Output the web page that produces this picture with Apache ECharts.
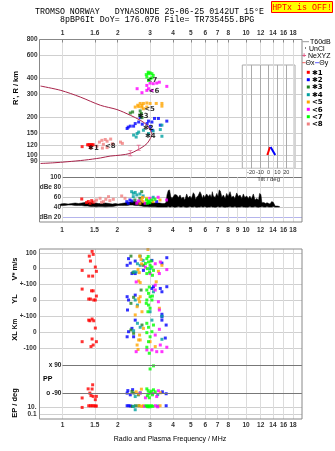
<!DOCTYPE html>
<html><head><meta charset="utf-8">
<script src="https://cdn.jsdelivr.net/npm/echarts@6/dist/echarts.min.js"></script>
<style>html,body{margin:0;padding:0;background:#fff}#c{width:335px;height:451px}</style>
</head><body><div id="c"></div>
<script>
// ---------------- DATA ----------------
const topTicks = [1,1.5,2,3,4,5,6,7,8,10,12,14,16,18];
const topTickLabels = ['1','1.6','2','3','4','5','6','7','8','10','12','14','16','18'];
const midTicks = [1,1.5,2,3,4,5,6,7,8,9,10,12,14,16,18];
const midTickLabels = ['1','1.5','2','3','4','5','6','7','8','9','10','12','14','16','18'];
const bottomTickLabels = ['1','1.5','2','3','4','5','6','7','8','10','12','14','16','18'];
const heightTicks = [80,90,100,120,150,200,300,400,600,800];
const dbTicks = [20,40,60,80,100];
const dbTickLabels = ['dBn 20','40','60','dBe 80','100'];
const tiltTicks = [-20,-10,0,10,20];

const classColors = ['#ff0000','#0000ff','#208020','#00a0a0','#ffa500','#ff00ff','#00ff00','#f08080'];
const classLabels = ['\u27311','\u27312','\u27313','\u27314','<5','<6','<7','<8'];

// N(h) profile: plasma frequency (MHz) vs real height (km)
const profFreq   = [0.76,0.9,1.06,1.32,1.61,1.82,2.07,2.34,2.55,2.71,2.89,3.01,3.07,3.05,3.01,2.89,2.65,2.34,1.98,1.61,1.25,0.98,0.76];
const profHeight = [86.5,87.6,89.2,91.9,95.5,98.8,100.5,103.6,109.9,115.4,123.9,135.5,145.6,150,157,172,188,205.5,227.6,245.7,285,321,347];
const errFreq = [2.34,2.6];
const errHeight = [104,114.6];

// echoes: [class, freq MHz, virtual height km]
const heightEchoes = [
 [1,1.28,117],[1,1.37,121],[1,1.39,121],[1,1.41,121],[1,1.43,121],[1,1.45,121],[1,1.47,121],[1,1.42,115],
 [8,1.54,118],[8,1.59,127],[8,1.64,131],[8,1.71,133],[8,1.75,129],[8,1.83,134],[8,1.67,122],[8,1.65,114],[8,1.75,115],[8,1.87,123],[8,2.07,127],[8,2.12,124],
 [2,2.25,162],[2,2.28,166],[2,2.34,169],[2,2.44,169],[2,2.49,177],[2,2.6,182],[2,2.65,197],[2,2.72,175],[2,2.89,177],[2,2.94,185],[2,3.07,182],[2,3.17,194],[2,3.33,194],[2,3.7,185],[2,3.41,172],[2,3.0,167],[2,3.09,157],
 [3,2.34,214],[3,2.41,218],[3,2.65,222],[3,2.69,212],[3,2.63,206],[3,2.71,197],
 [4,2.44,144],[4,2.52,139],[4,2.55,148],[4,2.6,152],[4,2.76,157],[4,2.94,148],[4,3.12,155],[4,3.48,141],[4,3.41,159],[4,3.48,172],
 [5,2.49,238],[5,2.57,246],[5,2.65,254],[5,2.71,246],[5,2.76,254],[5,2.88,256],[5,3.0,254],[5,3.24,254],[5,3.48,254],[5,3.48,242],[5,2.88,238],[5,2.76,231],[5,2.6,240],[5,2.7,238],
 [6,2.55,331],[6,2.71,308],[6,2.88,351],[6,3.0,366],[6,3.12,362],[6,3.26,366],[6,3.37,372],[6,3.7,345],[6,2.94,331],[6,3.07,321],[6,2.88,321],
 [7,2.86,426],[7,2.94,433],[7,3.07,433],[7,3.12,420],[7,2.88,408],[7,3.0,396],[7,2.94,384],[7,3.07,402],[7,2.93,445],[7,3.0,440]
];
// echo class label positions [freq, height]
const echoLabelFreq   = [1.474,2.934,2.756,3.009,2.98,3.15,3.07,1.823];
const echoLabelHeight = [114,163,202,141,229,316,384,117];

// amplitudes: [class, freq, dB]
const ampEchoes = [
 [1,1.28,57],[1,1.39,52],[1,1.45,53.7],[1,1.48,50.5],[1,1.42,48.5],[1,1.36,50],
 [8,1.54,55],[8,1.61,58.4],[8,1.68,51.7],[8,1.73,56.4],[8,1.79,61.6],[8,1.82,53.7],[8,1.9,56.4],[8,2.11,63],[8,2.2,58.4],[8,1.64,50.5],[8,1.51,51.7],
 [2,2.25,51.7],[2,2.34,55],[2,2.29,48.5],[2,2.65,51.7],[2,3.27,51.7],[2,2.4,53],
 [4,2.44,68.3],[4,2.55,65],[4,2.65,67],[4,2.39,71.5],[4,2.76,63],[4,2.44,61.6],[4,3.13,60.4],[4,2.5,70],
 [3,2.71,71.5],[3,2.49,55],[3,2.65,58.4],
 [5,2.71,55],[5,2.76,51.7],[5,3.12,51.7],[5,3.41,55],[5,2.88,58.4],[5,2.65,48.5],[5,2.74,60],
 [6,2.55,48.5],[6,3.0,58.4],[6,3.33,60.4],[6,3.7,55],[6,2.83,48.5],[6,2.6,53],
 [7,2.88,55],[7,2.94,51.7],[7,3.0,49.7],[7,3.07,55],[7,3.2,56.4],[7,2.91,48.5],[7,2.97,53]
];

// background noise band: freq, lower dB, upper dB
const noiseFreq = [0.98,1.03,1.08,1.13,1.18,1.23,1.28,1.33,1.38,1.43,1.48,1.53,1.58,1.65,1.72,1.8,1.88,1.95,2.02,2.1,2.18,2.26,2.34,2.42,2.5,2.6,2.7,2.8,2.9,3.0,3.1,3.2,3.3,3.4,3.5,3.6,3.68,
 3.72,3.78,3.84,3.9,3.96,4.03,4.1,4.2,4.3,4.38,4.46,4.56,4.65,4.76,4.85,4.96,5.05,5.17,5.25,5.32,5.4,5.5,5.62,5.7,5.8,5.88,5.96,6.11,6.25,6.37,6.48,6.56,6.64,6.8,6.93,7.05,7.15,7.25,7.4,7.53,7.7,7.85,8.0,8.19,8.35,8.53,8.7,8.9,9.1,9.28,9.5,9.67,9.85,10.09,10.3,10.5,10.7,10.96,11.2,11.43,11.7,11.85,12.05,12.2,12.5,12.8,13.0,13.3,13.5,13.8,14.1,14.4,14.8,15.2];
const noiseLow = [44,44,45,45,44,44,44,43,43,42,42,41.5,42,42,41.5,42,42,43,44,44,44,44,45,45,44,44,43,42,42,41.5,41.5,41.5,41,41,41,41,41,
 41,42,41,41,42,41,40.6,41,42,41,41,42,41,40.6,41,42,41,41,42,41,40.6,41,41,42,41,41,42,40.6,41,41,42,41,41,40.6,41,42,41,41,42,41,40.6,41,41,42,41,41,42,40.6,41,41,42,41,41,40.6,41,42,41,41,42,41,40.6,41,41,42,41,41,42,41,41,41,42,41,41,41];
const noiseHigh = [47,48,47,48,49,48,49,50,49,50,49,49,48,48,49,48,47,48,47,48,49,50,51,52,52,51,51,50,50,50,50,49,49,49,48,48,50,
 65,74,75,62,58,62,66,65,60,65,58,61,55,67,59,63,58,69.5,66,56,61,64,71.5,67,58,65,60,67,62,66,60,71.5,63,60,68,62,75,73,60,65,58,68,62,71.5,60,63,58,69,62,65,58,67,60,63,58,63,57,67,55,58,55,68,66,49.7,50,48,49.7,48,47,52,50,43,43,42];

// lower panel: [class, freq, value]
const vstarEchoes = [
 [1,1.45,109],[1,1.47,90],[1,1.40,79],[1,1.42,48],[1,1.51,10],[1,1.28,-11],[1,1.53,-17],[1,1.39,-47],[1,1.46,-47],
 [5,2.92,121],[5,2.63,79],[5,2.68,58],[5,2.62,-25],[5,2.6,-78],[5,2.65,-88],[5,3.48,21],[5,3.33,-17],[5,2.58,-5],[5,2.7,30],
 [2,2.49,48],[2,2.29,63],[2,2.25,21],[2,2.34,35],[2,3.7,69],[2,3.48,35],[2,2.39,-31],[2,2.49,-31],[2,2.76,-11],[2,3.07,52],
 [3,2.36,79],[3,2.65,79],[3,2.42,-25],[3,2.76,21],
 [4,2.56,31],[4,2.65,21],[4,2.75,52],[4,3.0,0],[4,2.52,-21],[4,2.45,-20],
 [7,2.88,63],[7,2.94,42],[7,3.0,21],[7,2.9,0],[7,2.98,-21],[7,3.07,10],[7,3.13,-11],[7,2.88,-31],[7,3.04,48],[7,2.93,77],[7,3.09,-42],[7,2.83,33],
 [6,3.41,42],[6,3.7,-6],[6,2.52,-84],[6,3.2,31],[6,3.0,-31],[6,3.37,-31],[6,2.83,10]
];
const ylEchoes = [
 [1,1.28,71],[1,1.44,60],[1,1.47,60],[1,1.53,27],[1,1.39,8],[1,1.42,8],[1,1.48,2],[1,1.51,2],
 [2,2.25,23],[2,2.29,2],[2,2.26,-61],[2,2.49,33],[2,3.13,86],[2,3.41,75],[2,3.48,54],[2,3.7,86],[2,3.07,75],[2,3.48,-88],
 [5,2.65,23],[5,2.63,-9],[5,2.71,-72],[5,2.49,-92],[5,2.55,-40],[5,3.24,117],[5,3.37,-50],[5,2.6,10],
 [3,2.44,19],[3,2.36,-19],[3,2.68,65],
 [4,2.49,2],[4,2.56,-30],[4,3.13,54],[4,3.0,-72],[4,3.48,-100],
 [7,2.88,65],[7,2.94,44],[7,3.0,23],[7,2.88,2],[7,2.94,-30],[7,3.0,-50],[7,2.92,-72],[7,3.07,2],[7,2.86,-19],[7,2.97,84],[7,3.09,27],
 [6,3.2,65],[6,3.33,-9],[6,3.37,-61],[6,3.2,96]
];
const xlEchoes = [
 [1,1.39,75],[1,1.45,82],[1,1.41,71],[1,1.48,71],[1,1.51,25],[1,1.45,-44],[1,1.28,-61],[1,1.53,-61],[1,1.47,-82],[1,1.43,-92],
 [2,2.49,75],[2,2.29,2],[2,2.25,-30],[2,3.48,96],[2,3.48,75],[2,2.44,-30],[2,2.39,23],[2,3.67,44],[2,3.63,-38],
 [5,2.63,-19],[5,2.6,-50],[5,2.65,-50],[5,2.55,-82],[5,3.0,-61],[5,3.2,-92],[5,2.76,23],[5,2.58,-110],
 [3,2.36,13],[3,2.44,-8],[3,2.71,44],
 [4,2.56,55],[4,2.65,30],[4,3.07,75],[4,3.48,-46],[4,2.44,8],
 [7,2.88,55],[7,2.94,30],[7,2.88,-4],[7,3.0,-30],[7,2.94,-61],[7,2.88,-96],[7,3.13,44],[7,3.07,2],[7,2.97,-134],
 [6,3.7,-96],[6,3.41,-82],[6,3.2,-19],[6,3.07,-113],[6,2.52,-124],[6,3.37,17],[6,2.88,-113],[6,3.26,-124],[6,3.48,-124]
];
const ppEchoes = [
 [1,1.38,-63],[1,1.45,-64],[1,1.41,-90],[1,1.43,-106],[1,1.47,-111],[1,1.53,-111],[1,1.28,-121],[1,1.51,-132],[1,1.46,-37],
 [2,2.25,-90],[2,2.27,-74],[2,2.34,-101],[2,3.67,-94],[2,2.41,-68],[2,3.5,-82],
 [3,2.39,-80],[3,2.59,-101],[3,2.45,-90],
 [5,2.69,-65],[5,2.52,-82],[5,3.41,-88],[5,2.6,-95],
 [4,2.49,-112],[4,2.65,-88],[4,3.3,-100],
 [7,2.88,-63],[7,2.93,-75],[7,3.0,-88],[7,3.09,-101],[7,2.9,-107],[7,3.13,-69],[7,2.97,-120],[7,3.2,-82],[7,3.13,84],[7,3.0,64],[7,2.95,-95],[7,3.05,-78],
 [6,2.65,-90],[6,3.26,-112],[6,3.33,-75],[6,2.83,-120],[6,3.1,-92]
];
const epEchoes = [
 [1,1.39,23.6],[1,1.42,23.6],[1,1.45,23.6],[1,1.48,23.6],[1,1.51,20],[1,1.53,20],[1,1.28,7.7],
 [2,2.25,24],[2,2.3,24],[2,3.67,24],[2,2.35,20],
 [3,2.4,16],[3,2.6,24],[3,2.5,24],
 [4,2.49,1.7],[4,2.44,16],[4,3.3,20],
 [5,2.62,24],[5,2.7,16],[5,3.4,24],[5,2.75,24],
 [7,2.85,24],[7,2.9,16],[7,2.95,24],[7,3.0,12],[7,3.05,24],[7,3.1,16],[7,2.92,12],
 [6,2.8,16],[6,3.2,24],[6,3.3,12]
];
const ppLines = [90,-90];
const ppLineLabels = ['x 90','o -90'];

// tilt inset: [tilt deg, height km]
const tiltX = [[-1.5,100.5],[1.5,116]];
const tiltY = [[2.2,116],[7.5,100.5]];

// ---------------- LAYOUT / TRANSFORMS ----------------
const lg = Math.log10;
const V_OFF = 400, YL_OFF = 200, XL_OFF = 0;
const PP_OFF = -296.5, PP_K = 0.989;
const EP_OFF = -495.6, EP_K = 22;
const ppU = p => PP_OFF + p * PP_K;
const epU = e => EP_OFF + EP_K * lg(e);
const XMIN = -0.125, XMAX = 1.3043;

const bottomTickU = [epU(0.1), epU(10), XL_OFF-100, XL_OFF, XL_OFF+100, YL_OFF, YL_OFF+100, V_OFF, V_OFF+100];
const bottomTickText = ['0.1','10.','-100','0','+-100','0','+-100','0','100'];

function labelFor(v, vals, texts) {
  for (let i = 0; i < vals.length; i++) if (Math.abs(vals[i] - v) < 1e-6) return texts[i];
  return '';
}
const FONT = 'Liberation Sans';
const tickFont = {fontFamily: FONT, fontSize: 6.5, fontWeight: 'bold', color: '#333'};

function freqAxis(gridIndex, position, ticks, labels, opts) {
  const cv = ticks.map(t => lg(t));
  return Object.assign({
    type: 'value', gridIndex, position, min: opts.min, max: XMAX,
    axisLine: {show: false},
    axisTick: {show: position === 'top', inside: true, length: 3, customValues: cv, lineStyle: {color: '#888'}},
    axisLabel: Object.assign({customValues: cv, margin: opts.margin, formatter: v => labelFor(v, cv, labels)}, tickFont),
    splitLine: {show: true, lineStyle: {color: '#dcdcdc', width: 1}}
  }, opts.extra || {});
}

const series = [];
// profile curve
series.push({type: 'line', xAxisIndex: 0, yAxisIndex: 0, data: profFreq.map((f, i) => [lg(f), lg(profHeight[i])]),
  symbol: 'none', smooth: 0.3, lineStyle: {color: '#a8234a', width: 1}, z: 3});
series.push({type: 'scatter', xAxisIndex: 0, yAxisIndex: 0, data: errFreq.map((f, i) => [lg(f), lg(errHeight[i])]),
  symbol: 'path://M0,0H4V1H2.5V6H4V7H0V6H1.5V1H0Z', symbolSize: [4, 6], itemStyle: {color: '#e05a86'}, z: 4});

for (let k = 1; k <= 8; k++) {
  const col = classColors[k - 1];
  series.push({type: 'scatter', xAxisIndex: 0, yAxisIndex: 0, symbol: 'rect', symbolSize: 3, itemStyle: {color: col}, z: 2,
    data: heightEchoes.filter(e => e[0] === k).map(e => [lg(e[1]), lg(e[2])])});
  series.push({type: 'scatter', xAxisIndex: 1, yAxisIndex: 1, symbol: 'rect', symbolSize: 3, itemStyle: {color: col}, z: 5,
    data: ampEchoes.filter(e => e[0] === k).map(e => [lg(e[1]), e[2]])});
  const bot = [].concat(
    vstarEchoes.filter(e => e[0] === k).map(e => [lg(e[1]), V_OFF + e[2]]),
    ylEchoes.filter(e => e[0] === k).map(e => [lg(e[1]), YL_OFF + e[2]]),
    xlEchoes.filter(e => e[0] === k).map(e => [lg(e[1]), XL_OFF + e[2]]),
    ppEchoes.filter(e => e[0] === k).map(e => [lg(e[1]), ppU(e[2])]),
    epEchoes.filter(e => e[0] === k).map(e => [lg(e[1]), epU(e[2])])
  );
  series.push({type: 'scatter', xAxisIndex: 2, yAxisIndex: 2, symbol: 'rect', symbolSize: 3, itemStyle: {color: col}, z: 3, data: bot});
}
// echo class labels
series.push({type: 'scatter', xAxisIndex: 0, yAxisIndex: 0, symbolSize: 0, z: 6,
  data: echoLabelFreq.map((f, i) => ({value: [lg(f), lg(echoLabelHeight[i])], name: classLabels[i]})),
  label: {show: true, position: 'inside', formatter: p => p.name, color: '#000', fontFamily: 'DejaVu Sans', fontWeight: 'bold', fontSize: 7}});

// noise band polygon
series.push({type: 'custom', xAxisIndex: 1, yAxisIndex: 1, z: 2, data: [[lg(noiseFreq[0]), noiseLow[0]]],
  renderItem: (params, api) => {
    const pts = [];
    for (let i = 0; i < noiseFreq.length; i++) pts.push(api.coord([lg(noiseFreq[i]), noiseHigh[i]]));
    for (let i = noiseFreq.length - 1; i >= 0; i--) pts.push(api.coord([lg(noiseFreq[i]), noiseLow[i]]));
    return {type: 'polygon', shape: {points: pts}, style: {fill: '#000', stroke: '#000', lineWidth: 0.5}};
  }});

// PP reference lines
series.push({type: 'line', xAxisIndex: 2, yAxisIndex: 2, data: [], symbol: 'none',
  markLine: {silent: true, symbol: 'none', animation: false,
    lineStyle: {color: '#777', width: 1, type: 'solid'},
    label: {position: 'start', distance: 1, color: '#222', fontFamily: FONT, fontSize: 6.5, fontWeight: 'bold', formatter: p => p.name},
    data: ppLines.map((p, i) => [{name: ppLineLabels[i], coord: [0, ppU(p)]}, {coord: [XMAX, ppU(p)]}])}});

// tilt inset
series.push({type: 'line', xAxisIndex: 3, yAxisIndex: 3, symbol: 'none', lineStyle: {color: '#ff0000', width: 2}, z: 6,
  data: tiltX.map(p => [p[0], lg(p[1])])});
series.push({type: 'line', xAxisIndex: 3, yAxisIndex: 3, symbol: 'none', lineStyle: {color: '#0000ff', width: 2}, z: 6,
  data: tiltY.map(p => [p[0], lg(p[1])])});

// ---------------- GRAPHICS (text, legend, frames) ----------------
const g = [];
const txt = (x, y, text, o) => g.push(Object.assign({type: 'text', x, y, silent: true,
  style: Object.assign({text, fill: '#000', fontFamily: FONT, fontSize: 7, align: 'left', verticalAlign: 'middle'}, (o && o.style) || {})},
  (o && o.el) || {}));
const mono = 'Liberation Mono';
txt(35, 12, 'TROMSO NORWAY   DYNASONDE 25-06-25 0142UT 15\u00b0E', {style: {fontFamily: mono, fontSize: 8.3}});
txt(60, 20, '8pBP6It DoY= 176.070 File= TR735455.BPG', {style: {fontFamily: mono, fontSize: 8.3}});
g.push({type: 'rect', shape: {x: 271.5, y: 1.5, width: 61, height: 11}, style: {fill: '#ffff00', stroke: '#ff0000', lineWidth: 1}, silent: true});
txt(302, 7.5, 'HPTx is OFF!', {style: {fontFamily: mono, fontSize: 8.3, fill: '#ff0000', align: 'center'}});
// frames
g.push({type: 'rect', shape: {x: 39.5, y: 39.5, width: 262.5, height: 182.5}, style: {fill: 'none', stroke: '#888', lineWidth: 1}, silent: true, z: 10});
g.push({type: 'rect', shape: {x: 39.5, y: 249, width: 262.5, height: 170}, style: {fill: 'none', stroke: '#888', lineWidth: 1}, silent: true, z: 10});
// axis titles
const vt = (x, y, text, fs) => txt(x, y, text, {style: {fontSize: fs || 7.5, fontWeight: 'bold', align: 'center'}, el: {rotation: Math.PI / 2}});
vt(16, 88, "R', R / km");
vt(15, 269, 'V* m/s');
vt(15, 299, 'YL');
vt(15, 324, 'Km', 6.5);
vt(15, 336, 'XL');
vt(15, 403, 'EP / deg');
txt(43, 379, 'PP', {style: {fontSize: 7, fontWeight: 'bold'}});
txt(170, 439, 'Radio and Plasma Frequency / MHz', {style: {fontSize: 7, align: 'center'}});
// legend
g.push({type: 'line', shape: {x1: 302.5, y1: 41.7, x2: 309, y2: 41.7}, style: {stroke: '#999', lineWidth: 1}, silent: true});
txt(310, 42, 'T60dB');
g.push({type: 'rect', shape: {x: 305, y: 47.5, width: 1, height: 1}, style: {fill: '#000'}, silent: true});
txt(309, 49, 'UnCl');
txt(304, 55.5, '+', {style: {fill: '#e05a86', fontSize: 8, align: 'center', fontWeight: 'bold'}});
txt(308, 56, 'NeXYZ');
g.push({type: 'line', shape: {x1: 302, y1: 62.7, x2: 305.5, y2: 62.7}, style: {stroke: '#ff6060', lineWidth: 1}, silent: true});
txt(305.5, 63, '\u0398x');
g.push({type: 'line', shape: {x1: 315, y1: 62.7, x2: 319, y2: 62.7}, style: {stroke: '#6060ff', lineWidth: 1}, silent: true});
txt(319.3, 63, '\u0398y');
const legY = [72.3, 79.7, 87, 94.7, 102, 109.3, 116.7, 124];
for (let i = 0; i < 8; i++) {
  g.push({type: 'rect', shape: {x: 306.8, y: legY[i] - 1.5, width: 3, height: 3}, style: {fill: classColors[i]}, silent: true});
  txt(312, legY[i] + 0.5, classLabels[i], {style: {fontFamily: 'DejaVu Sans', fontWeight: 'bold', fontSize: 7}});
}

// ---------------- OPTION ----------------
const option = {
  animation: false,
  backgroundColor: '#fff',
  grid: [
    {left: 39.5, top: 39.5, width: 262.5, height: 137.8},
    {left: 62, top: 177.3, width: 240, height: 44.7},
    {left: 39.5, top: 249, width: 262.5, height: 170},
    {left: 242.3, top: 65, width: 52.7, height: 103.3, show: true, borderColor: '#aaa', borderWidth: 1, backgroundColor: 'transparent'}
  ],
  xAxis: [
    freqAxis(0, 'top', topTicks, topTickLabels, {min: XMIN, margin: 3}),
    freqAxis(1, 'bottom', midTicks, midTickLabels, {min: 0, margin: 5}),
    freqAxis(2, 'bottom', topTicks, bottomTickLabels, {min: XMIN, margin: 3}),
    {type: 'value', gridIndex: 3, min: -30, max: 30, axisLine: {show: false},
     axisTick: {show: false, customValues: tiltTicks},
     axisLabel: {customValues: tiltTicks, margin: 1, fontFamily: FONT, fontSize: 5.5, color: '#333'},
     splitLine: {show: true, lineStyle: {color: '#aaa'}},
     name: 'Tilt / deg', nameLocation: 'middle', nameGap: 8, nameTextStyle: {fontFamily: FONT, fontSize: 6, color: '#333'}}
  ],
  yAxis: [
    {type: 'value', gridIndex: 0, min: lg(67.5), max: lg(800), axisLine: {show: false},
     axisTick: {show: false, customValues: heightTicks.map(t => lg(t))},
     axisLabel: Object.assign({customValues: heightTicks.map(t => lg(t)), margin: 2, formatter: v => String(Math.round(Math.pow(10, v)))}, tickFont),
     splitLine: {show: true, lineStyle: {color: '#cfcfcf'}}},
    {type: 'value', gridIndex: 1, min: 11.4, max: 100, axisLine: {show: false},
     axisTick: {show: false, customValues: dbTicks},
     axisLabel: Object.assign({customValues: dbTicks, margin: 1, formatter: v => labelFor(v, dbTicks, dbTickLabels)}, tickFont),
     splitLine: {show: true, lineStyle: {color: ['#b4b4ec', '#c8c8c8', '#c8c8c8', '#c8c8c8', '#777']}}},
    {type: 'value', gridIndex: 2, min: -549, max: 524, axisLine: {show: false},
     axisTick: {show: false, customValues: bottomTickU},
     axisLabel: Object.assign({customValues: bottomTickU, margin: 3, formatter: v => labelFor(v, bottomTickU, bottomTickText)}, tickFont),
     splitLine: {show: true, lineStyle: {color: '#d0d0d0'}}},
    {type: 'value', gridIndex: 3, min: lg(79.3), max: lg(502), show: false}
  ],
  series,
  graphic: g
};
const chart = echarts.init(document.getElementById('c'), null, {renderer: 'canvas'});
chart.setOption(option);
</script>
</body></html>
